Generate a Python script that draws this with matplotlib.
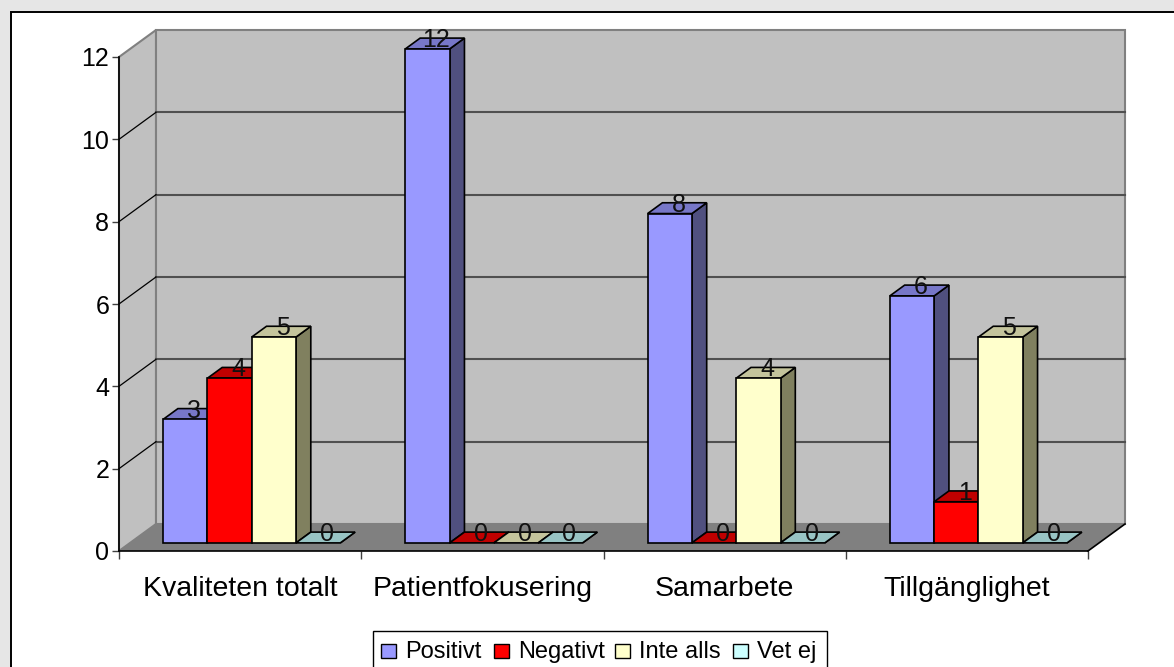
import matplotlib
matplotlib.use("Agg")
import matplotlib.pyplot as plt
from matplotlib.patches import Polygon, Rectangle

categories = ["Kvaliteten totalt", "Patientfokusering", "Samarbete", "Tillgänglighet"]
series_names = ["Positivt", "Negativt", "Inte alls", "Vet ej"]
positivt = [3, 12, 8, 6]
negativt = [4, 0, 0, 1]
inte_alls = [5, 0, 4, 5]
vet_ej = [0, 0, 0, 0]
y_ticks = [0, 2, 4, 6, 8, 10, 12]

# front, top and side shade of each series
front_colors = ["#9999ff", "#ff0000", "#ffffcc", "#ccffff"]
top_colors = ["#7777c8", "#c00000", "#c4c49c", "#98c4c4"]
side_colors = ["#50507f", "#800000", "#80805f", "#608080"]

W, H = 1174, 667
plt.rcParams["font.family"] = ["Liberation Sans", "DejaVu Sans"]

fig = plt.figure(figsize=(W / 100, H / 100), dpi=100, facecolor="#e6e6e6")
fig.add_artist(Rectangle((11 / W, 1 - 700 / H), 1200 / W, 688 / H, transform=fig.transFigure,
                         facecolor="white", edgecolor="black", lw=1.4, zorder=-1))

ax = fig.add_axes([119 / W, 1 - 551 / H, 969 / W, 494 / H], facecolor="none")
ax.set_xlim(0, 4)
ax.set_ylim(0, 12)

# oblique projection: one full depth step in data units
DX = 37 / 242.25
DY = 27 / 41.17
BAR_W = 44.3 / 242.25
BAR_START = 33 / 242.25
NEAR = 0.3
FAR = 0.7


def poly(pts, face, edge="black", lw=1.2, z=3):
    ax.add_patch(Polygon(pts, closed=True, facecolor=face, edgecolor=edge, lw=lw,
                         zorder=z, clip_on=False, joinstyle="miter"))


# walls and floor
poly([(0, 0), (DX, DY), (DX, 12 + DY), (0, 12)], "#c0c0c0", edge="#808080", lw=1.5, z=1)
poly([(DX, DY), (4 + DX, DY), (4 + DX, 12 + DY), (DX, 12 + DY)], "#c0c0c0", edge="#808080", lw=1.5, z=1)
poly([(DX, DY), (4 + DX, DY), (4, 0), (0, 0)], "#808080", edge="none", z=1)
for t in y_ticks[1:-1]:
    ax.plot([DX, 4 + DX], [t + DY, t + DY], color="#505050", lw=1.5, zorder=2, clip_on=False)
    ax.plot([0, DX], [t, t + DY], color="black", lw=0.9, zorder=2, clip_on=False)
ax.plot([4, 4 + DX], [0, DY], color="black", lw=1.2, zorder=2, clip_on=False)

# bars, left to right so the nearer faces overlap correctly
all_series = [positivt, negativt, inte_alls, vet_ej]
labels = []
for c in range(len(categories)):
    for s, values in enumerate(all_series):
        v = values[c]
        x0 = c + BAR_START + s * BAR_W + NEAR * DX
        x1 = x0 + BAR_W
        y0 = NEAR * DY
        y1 = y0 + v
        dx = (FAR - NEAR) * DX
        dy = (FAR - NEAR) * DY
        z = 3 + c + s * 0.1
        poly([(x1, y0), (x1 + dx, y0 + dy), (x1 + dx, y1 + dy), (x1, y1)], side_colors[s], z=z)
        poly([(x0, y1), (x0 + dx, y1 + dy), (x1 + dx, y1 + dy), (x1, y1)], top_colors[s], z=z)
        if v > 0:
            poly([(x0, y0), (x1, y0), (x1, y1), (x0, y1)], front_colors[s], z=z + 0.01)
        labels.append(((x0 + x1 + dx) / 2 + 0.006, y1 + dy * 1.05, str(v)))

for lx, ly, txt in labels:
    ax.text(lx, ly, txt, ha="center", va="center_baseline", fontsize=18, color="#111111", zorder=20, clip_on=False)

# axes
for side in ["top", "right"]:
    ax.spines[side].set_visible(False)
ax.spines["left"].set_linewidth(1.2)
ax.spines["bottom"].set_linewidth(1.2)
ax.spines["left"].set_zorder(2.5)
ax.spines["bottom"].set_zorder(2.5)
ax.set_yticks(y_ticks)
ax.tick_params(axis="y", length=5, width=1, labelsize=18, pad=2, color="#404040")
ax.set_xticks([0.5, 1.5, 2.5, 3.5])
ax.set_xticklabels(categories)
ax.set_xticks([0, 1, 2, 3, 4], minor=True)
ax.tick_params(axis="x", which="major", length=0, labelsize=20.5, pad=18)
ax.tick_params(axis="x", which="minor", length=6, width=1, color="#404040")

# legend row
lg_ax = fig.add_axes([0, 0, 1, 1], facecolor="none")
lg_ax.set_xlim(0, W)
lg_ax.set_ylim(H, 0)
lg_ax.axis("off")
lg_ax.add_patch(Rectangle((372.5, 630.5), 454, 60, facecolor="white", edgecolor="black", lw=1))
swatch_x = [381, 494, 615, 733]
text_x = [405, 518, 639, 757]
for sx, tx, name, col in zip(swatch_x, text_x, series_names, front_colors):
    lg_ax.add_patch(Rectangle((sx, 644), 15, 14, facecolor=col, edgecolor="black", lw=1))
    lg_ax.text(tx, 652, name, fontsize=17, va="center", ha="left", color="black")

fig.savefig("out.png", dpi=100, facecolor=fig.get_facecolor())
